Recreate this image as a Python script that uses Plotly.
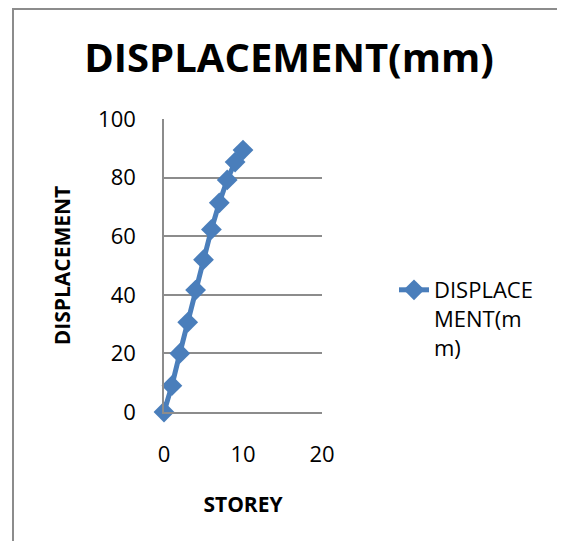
import plotly.graph_objects as go

# storey number vs displacement (mm)
storey = [0, 1, 2, 3, 4, 5, 6, 7, 8, 9, 10]
displacement = [0, 9, 20, 30.6, 41.6, 52, 62.3, 71.4, 79.2, 85.3, 89.4]

x_ticks = [0, 10, 20]
y_ticks = [0, 20, 40, 60, 80, 100]

OFF = 8  # page body margin
W, H = 565 - OFF, 549 - 2 * OFF
L, R, T, B = 164 - OFF, 322 - OFF, 119 - OFF, 412 - OFF  # plot area


def px(x):
    # page pixel -> paper x
    return (x - OFF - L) / (R - L)


def py(y):
    # page pixel -> paper y
    return (B - (y - OFF)) / (B - T)


FONT = "Open Sans"
BLUE = "#4A7EBB"
GRAY = "#8c8c8c"

fig = go.Figure()
fig.add_trace(go.Scatter(
    x=storey, y=displacement, name="DISPLACE<br>MENT(m<br>m)",
    mode="lines+markers", cliponaxis=False,
    line=dict(color=BLUE, width=5),
    marker=dict(symbol="diamond", size=16, color=BLUE),
))

fig.update_layout(
    width=W, height=H,
    margin=dict(l=L, r=W - R, t=T, b=H - B),
    paper_bgcolor="white", plot_bgcolor="white",
    font=dict(family=FONT, color="black", size=22),
    title=dict(text="<b>DISPLACEMENT(mm)</b>", x=px(289), xanchor="center",
               xref="paper", y=1 - (58 - OFF) / H, yanchor="middle",
               font=dict(size=40, family=FONT)),
    showlegend=True,
    legend=dict(x=px(394), y=py(269), xanchor="left", yanchor="top",
                font=dict(size=22, family=FONT), bgcolor="rgba(0,0,0,0)",
                valign="top", tracegroupgap=0),
)

fig.update_xaxes(
    range=[0, 20], tickvals=x_ticks, showgrid=False, zeroline=False,
    showline=True, linecolor=GRAY, linewidth=1.5,
    ticks="", tickfont=dict(size=22), ticklabelstandoff=22,
    title=dict(text="<b>STOREY</b>", font=dict(size=21), standoff=30),
)
fig.update_yaxes(
    range=[0, 100], tickvals=y_ticks, showgrid=True, gridcolor=GRAY,
    gridwidth=1.5, zeroline=False, showline=True, linecolor=GRAY,
    linewidth=1.5, ticks="", tickfont=dict(size=22), ticklabelstandoff=22,
    title=dict(text="<b>DISPLACEMENT</b>", font=dict(size=21), standoff=22),
)

# outer chart border
fig.add_shape(type="rect", xref="paper", yref="paper",
              x0=px(13), x1=px(562), y0=py(570), y1=py(9),
              line=dict(color=GRAY, width=2), layer="below")

fig.write_html("out.html")
